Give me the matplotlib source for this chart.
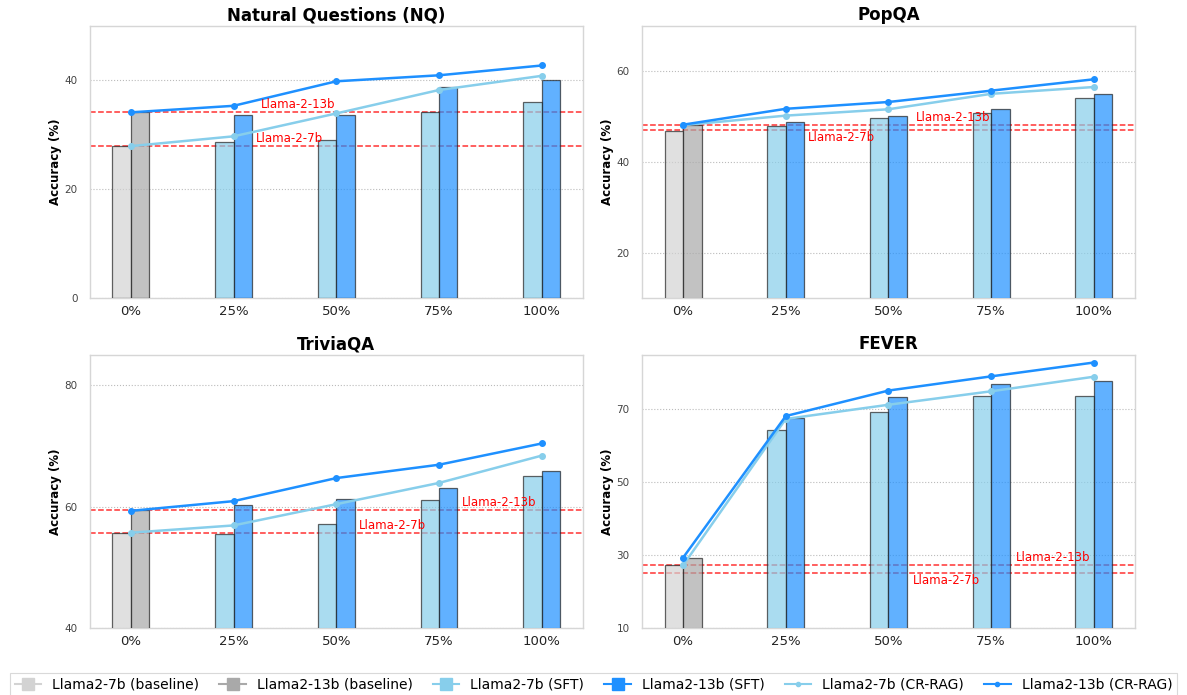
import matplotlib
matplotlib.use("Agg")
import matplotlib.pyplot as plt
from matplotlib.lines import Line2D
import numpy as np

plt.rcParams['font.family'] = ['DejaVu Sans']

categories = ["0%", "25%", "50%", "75%", "100%"]
titles = ["Natural Questions (NQ)", "PopQA", "TriviaQA", "FEVER"]

# bars: index 0 = baseline, 1..4 = SFT
nq_7b_bars = [27.9, 28.7, 29.1, 34.1, 36.0]
nq_13b_bars = [34.1, 33.6, 33.6, 38.8, 40.0]
nq_7b_cr = [27.9, 29.7, 33.9, 38.2, 40.8]
nq_13b_cr = [34.1, 35.3, 39.8, 40.9, 42.7]
nq_ref = [27.9, 34.1]

pop_7b_bars = [46.9, 47.9, 49.7, 50.7, 54.0]
pop_13b_bars = [48.1, 48.7, 50.2, 51.6, 55.0]
pop_7b_cr = [48.1, 50.2, 51.6, 55.0, 56.5]
pop_13b_cr = [48.2, 51.7, 53.2, 55.7, 58.2]
pop_ref = [47.0, 48.1]

tqa_7b_bars = [55.6, 55.5, 57.2, 61.1, 65.0]
tqa_13b_bars = [59.4, 60.2, 61.3, 63.0, 65.9]
tqa_7b_cr = [55.7, 56.9, 60.4, 63.9, 68.4]
tqa_13b_cr = [59.3, 60.9, 64.7, 66.9, 70.4]
tqa_ref = [55.7, 59.4]

fev_7b_bars = [27.2, 64.3, 69.4, 73.6, 73.8]
fev_13b_bars = [29.2, 67.8, 73.3, 77.0, 77.9]
fev_7b_cr = [27.2, 67.4, 71.3, 75.0, 79.0]
fev_13b_cr = [29.3, 68.2, 75.2, 79.1, 82.9]
fev_ref = [25.1, 27.2]

ylims = [(0, 50), (10, 70), (40, 85), (10, 85)]
yticks = [[0, 20, 40], [20, 40, 60], [40, 60, 80], [10, 30, 50, 70]]
# label placement: (x for 13b, above?), (x for 7b, above?)
label_cfg = [
    ((1.27, True), (1.22, True)),
    ((2.27, True), (1.22, False)),
    ((3.22, True), (2.22, True)),
    ((3.24, True), (2.24, False)),
]

data = [
    (nq_7b_bars, nq_13b_bars, nq_7b_cr, nq_13b_cr, nq_ref),
    (pop_7b_bars, pop_13b_bars, pop_7b_cr, pop_13b_cr, pop_ref),
    (tqa_7b_bars, tqa_13b_bars, tqa_7b_cr, tqa_13b_cr, tqa_ref),
    (fev_7b_bars, fev_13b_bars, fev_7b_cr, fev_13b_cr, fev_ref),
]

c_base7 = '#D3D3D3'
c_base13 = '#A9A9A9'
c_sft7 = '#87CEEB'
c_sft13 = '#1E90FF'

fig = plt.figure(figsize=(11.87, 6.95), dpi=100)
positions = [
    [0.0758, 0.571, 0.415, 0.392],
    [0.541, 0.571, 0.415, 0.392],
    [0.0758, 0.0964, 0.415, 0.393],
    [0.541, 0.0964, 0.415, 0.393],
]

x = np.arange(len(categories))
w = 0.18
for i in range(4):
    ax = fig.add_axes(positions[i])
    b7, b13, cr7, cr13, ref = data[i]
    col7 = [c_base7] + [c_sft7] * 4
    col13 = [c_base13] + [c_sft13] * 4
    ax.bar(x - w / 2, b7, w, color=col7, edgecolor='#222222', linewidth=0.9, alpha=0.7, zorder=3)
    ax.bar(x + w / 2, b13, w, color=col13, edgecolor='#222222', linewidth=0.9, alpha=0.7, zorder=3)
    ax.plot(x, cr7, color=c_sft7, marker='o', markersize=4, linewidth=1.8, zorder=5)
    ax.plot(x, cr13, color=c_sft13, marker='o', markersize=4, linewidth=1.8, zorder=5)
    ax.axhline(ref[0], color='red', linestyle='--', linewidth=1.1, alpha=0.8, zorder=2)
    ax.axhline(ref[1], color='red', linestyle='--', linewidth=1.1, alpha=0.8, zorder=2)
    (x13, up13), (x7, up7) = label_cfg[i]
    off = (ylims[i][1] - ylims[i][0]) * 0.004
    ax.text(x13, ref[1] + (off if up13 else -off), 'Llama-2-13b', color='red', fontsize=8.5,
            va='bottom' if up13 else 'top', ha='left', zorder=6)
    ax.text(x7, ref[0] + (off if up7 else -off), 'Llama-2-7b', color='red', fontsize=8.5,
            va='bottom' if up7 else 'top', ha='left', zorder=6)
    ax.set_ylim(*ylims[i])
    ax.set_yticks(yticks[i])
    ax.set_xticks(x)
    ax.set_xticklabels(categories, fontsize=9.5, color='#222222')
    ax.tick_params(axis='y', labelsize=7.5, labelcolor='#444444', length=0, pad=9)
    ax.tick_params(axis='x', length=0, pad=5)
    ax.set_title(titles[i], fontsize=12, fontweight='bold', pad=4)
    ax.set_ylabel('Accuracy (%)', fontsize=8.5, fontweight='bold', labelpad=2)
    ax.grid(axis='y', color='#BBBBBB', linestyle=':', linewidth=0.8, zorder=0)
    ax.set_axisbelow(True)
    for s in ax.spines.values():
        s.set_color('#D6D6D6')
        s.set_linewidth(1.0)

handles = [
    Line2D([0], [0], color=c_base7, marker='s', markersize=9, linewidth=1.5),
    Line2D([0], [0], color=c_base13, marker='s', markersize=9, linewidth=1.5),
    Line2D([0], [0], color=c_sft7, marker='s', markersize=9, linewidth=1.5),
    Line2D([0], [0], color=c_sft13, marker='s', markersize=9, linewidth=1.5),
    Line2D([0], [0], color=c_sft7, marker='o', markersize=3, linewidth=1.5),
    Line2D([0], [0], color=c_sft13, marker='o', markersize=3, linewidth=1.5),
]
labels = ['Llama2-7b (baseline)', 'Llama2-13b (baseline)', 'Llama2-7b (SFT)',
          'Llama2-13b (SFT)', 'Llama2-7b (CR-RAG)', 'Llama2-13b (CR-RAG)']
leg = fig.legend(handles, labels, loc='lower center', ncol=6, fontsize=10,
                 bbox_to_anchor=(0.5, -0.012), frameon=True, fancybox=False,
                 columnspacing=1.45, handlelength=1.9, handletextpad=0.8, borderpad=0.35)
leg.get_frame().set_edgecolor('#D0D0D0')
leg.get_frame().set_linewidth(0.8)

fig.savefig('out.png', dpi=100)
